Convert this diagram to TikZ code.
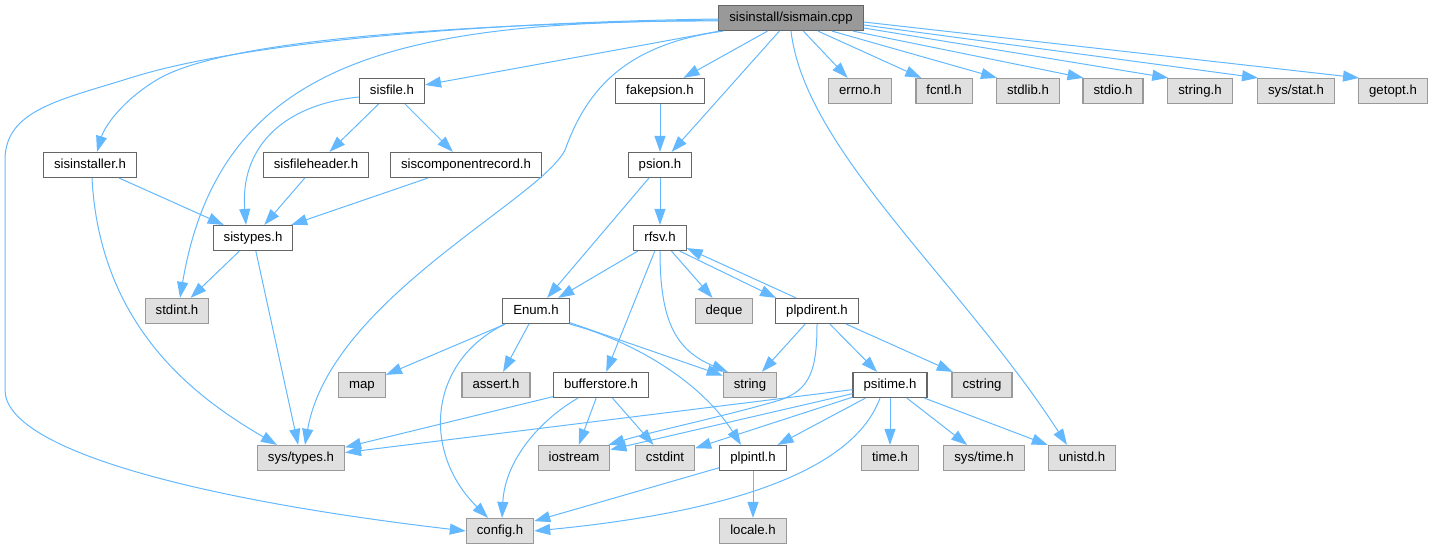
\documentclass[tikz,border=0pt]{standalone}
\usepackage{fontspec}
\setmainfont{Liberation Sans}
\usetikzlibrary{arrows.meta}
\definecolor{edgeblue}{HTML}{63B8FF}
\definecolor{boxgray}{HTML}{E0E0E0}
\definecolor{gray66}{HTML}{666666}
\definecolor{gray99}{HTML}{999999}

\begin{document}
\begin{tikzpicture}[x=1pt,y=1pt,>={Triangle[length=16pt,width=11pt]},
    dep/.style={draw=edgeblue,line width=1pt,->},
    every edge/.style={dep},
    file node/.style={rectangle,draw=gray66,fill=white,line width=1.2pt,minimum height=25pt,
      inner xsep=10.5pt,inner ysep=0pt,text height=9.5pt,text depth=2.8pt,
      font=\fontsize{13.2}{15}\selectfont},
    main node/.style={file node,fill=gray99},
    sys node/.style={file node,draw=gray99,fill=boxgray}]

  \useasboundingbox (0,0) rectangle (1433,-549);

  \node[main node] (M) at (791,-18) {sisinstall/sismain.cpp};

  \node[file node] (sisfile) at (392,-91) {sisfile.h};
  \node[file node] (fakepsion) at (660,-91) {fakepsion.h};
  \node[sys node] (errno) at (860,-91) {errno.h};
  \node[sys node] (fcntl) at (944,-91) {fcntl.h};
  \node[sys node] (stdlib) at (1028,-91) {stdlib.h};
  \node[sys node] (stdio) at (1113,-91) {stdio.h};
  \node[sys node] (stringh) at (1200,-91) {string.h};
  \node[sys node] (sysstat) at (1296,-91) {sys/stat.h};
  \node[sys node] (getopt) at (1393,-91) {getopt.h};

  \node[file node] (installer) at (90,-165) {sisinstaller.h};
  \node[file node] (header) at (316,-165) {sisfileheader.h};
  \node[file node] (comprec) at (466,-165) {siscomponentrecord.h};
  \node[file node] (psion) at (660,-165) {psion.h};

  \node[file node] (sistypes) at (253,-238) {sistypes.h};
  \node[file node] (rfsv) at (660,-238) {rfsv.h};

  \node[sys node] (stdint) at (177,-311) {stdint.h};
  \node[file node] (enum) at (536,-311) {Enum.h};
  \node[sys node] (deque) at (724,-311) {deque};
  \node[file node] (pdir) at (817,-311) {plpdirent.h};

  \node[sys node] (map) at (362,-385) {map};
  \node[sys node] (assert) at (496,-385) {assert.h};
  \node[file node] (buffer) at (601,-385) {bufferstore.h};
  \node[sys node] (string) at (750,-385) {string};
  \node[file node] (psitime) at (890,-385) {psitime.h};
  \node[sys node] (cstring) at (982,-385) {cstring};

  \node[sys node] (systypes) at (301,-458) {sys/types.h};
  \node[sys node] (iostream) at (574,-458) {iostream};
  \node[sys node] (cstdint) at (665,-458) {cstdint};
  \node[file node] (plpintl) at (753,-458) {plpintl.h};
  \node[sys node] (timeh) at (890,-458) {time.h};
  \node[sys node] (systime) at (984,-458) {sys/time.h};
  \node[sys node] (unistd) at (1082,-458) {unistd.h};

  \node[sys node] (config) at (500,-531) {config.h};
  \node[sys node] (locale) at (753,-531) {locale.h};

  \path
    (M) edge (sisfile)
    (M) edge (fakepsion)
    (M) edge (psion)
    (M) edge (errno)
    ([xshift=27pt]M.south) edge ([xshift=6pt]fcntl.north west)
    ([xshift=41pt]M.south) edge ([xshift=1pt]stdlib.north west)
    ([xshift=62pt]M.south) edge ([xshift=1pt]stdio.north west)
    ([yshift=-10pt]M.east) edge ([xshift=1pt]stringh.north west)
    ([yshift=-7pt]M.east) edge ([xshift=1pt]sysstat.north west)
    ([yshift=-4pt]M.east) edge ([xshift=1pt]getopt.north west)
    (sisfile) edge (header)
    (sisfile) edge (comprec)
    (installer) edge (sistypes)
    (header) edge (sistypes)
    (comprec) edge (sistypes)
    (sistypes) edge (stdint)
    (sistypes) edge (systypes)
    (fakepsion) edge (psion)
    (psion) edge (rfsv)
    (psion) edge (enum)
    (rfsv) edge (enum)
    (rfsv) edge (buffer)
    (rfsv) edge (deque)
    (pdir) edge (string)
    (pdir) edge (psitime)
    (pdir) edge (cstring)
    (enum) edge (map)
    (enum) edge (assert)
    (enum) edge (string)
    (buffer) edge (systypes)
    (buffer) edge (iostream)
    (buffer) edge (cstdint)
    (psitime) edge (systypes)
    (psitime) edge (iostream)
    (psitime) edge (cstdint)
    (psitime) edge (plpintl)
    (psitime) edge (timeh)
    (psitime) edge (systime)
    (psitime) edge (unistd)
    (plpintl) edge (config)
    (plpintl) edge (locale);

  \draw[dep] ([yshift=-1pt]M.west) .. controls (500,-22) and (250,-40) .. (130,-78)
    .. controls (60,-100) and (5,-110) .. (5,-160) -- (5,-390)
    .. controls (5,-450) and (200,-500) .. (config.west);
  \draw[dep] ([yshift=-2pt]M.west) .. controls (400,-25) and (220,-45) .. (160,-78)
    .. controls (125,-98) and (105,-125) .. ([xshift=7pt]installer.north);
  \draw[dep] ([yshift=-3pt]M.west) .. controls (400,-20) and (220,-60) .. ([xshift=3pt]stdint.north);
  \draw[dep] ([xshift=5pt]M.south west) .. controls (620,-45) and (585,-95) .. (565,-150)
    .. controls (540,-200) and (330,-300) .. ([xshift=4pt]systypes.north);
  \draw[dep] (M.south) .. controls (805,-150) and (960,-280) .. ([xshift=-15pt]unistd.north);
  \draw[dep] ([yshift=-6pt]sisfile.west) .. controls (280,-105) and (240,-150) .. ([xshift=-7pt]sistypes.north);
  \draw[dep] ([xshift=2pt]installer.south) .. controls (100,-330) and (200,-400) .. ([xshift=-24pt]systypes.north);
  \draw[dep] ([xshift=-7pt]rfsv.south east) -- ([xshift=1pt]pdir.north west);
  \draw[dep] ([xshift=21pt]pdir.north west) -- ([yshift=3pt]rfsv.south east);
  \draw[dep] (rfsv.south) .. controls (660,-320) and (675,-350) .. ([xshift=5pt]string.north west);
  \draw[dep] (pdir.south) .. controls (817,-370) and (810,-390) .. (780,-400)
    .. controls (730,-415) and (650,-432) .. ([xshift=-2pt]iostream.north east);
  \draw[dep] (enum.south east) .. controls (630,-340) and (700,-380) .. ([xshift=-12pt]plpintl.north);
  \draw[dep] ([xshift=-31pt]enum.south) .. controls (430,-360) and (420,-450) .. ([xshift=-12pt]config.north);
  \draw[dep] ([xshift=-23pt]buffer.south) .. controls (540,-420) and (505,-460) .. ([xshift=2pt]config.north);
  \draw[dep] ([xshift=-10pt]psitime.south) .. controls (850,-480) and (700,-515) .. (config.east);
\end{tikzpicture}
\end{document}
